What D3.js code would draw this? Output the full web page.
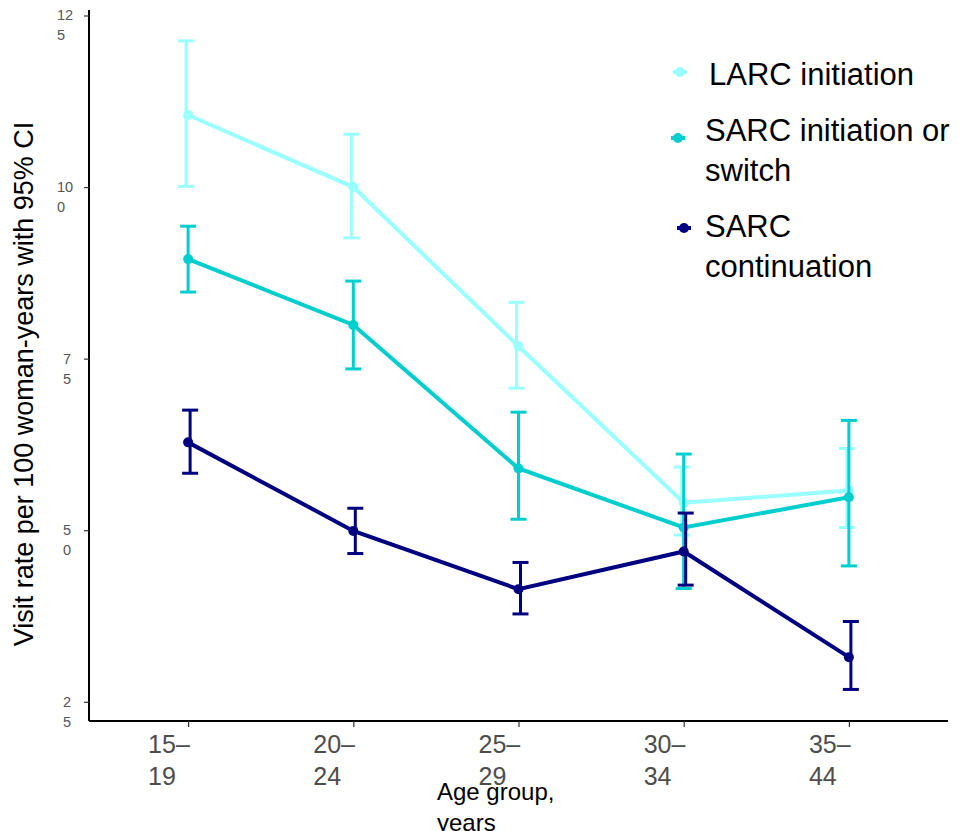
<!DOCTYPE html>
<html>
<head>
<meta charset="utf-8">
<script src="https://cdn.jsdelivr.net/npm/d3@7"></script>
<style>
  body { margin: 0; background: #fff; }
  svg { display: block; font-family: "Liberation Sans", Arial, sans-serif; }
</style>
</head>
<body>
<div id="chart"></div>
<script>
const WIDTH = 966;
const HEIGHT = 831;

// data
const ageGroups = ["15–19", "20–24", "25–29", "30–34", "35–44"];
const ageLines = [["15–", "19"], ["20–", "24"], ["25–", "29"], ["30–", "34"], ["35–", "44"]];
const yTicks = [25, 50, 75, 100, 125];

const larcRate = [110.5, 100.0, 76.8, 54.0, 55.8];
const larcLow  = [100.1, 92.6, 70.7, 49.3, 50.4];
const larcHigh = [121.3, 107.7, 83.2, 59.2, 61.9];

const sarcInitRate = [89.5, 79.9, 59.0, 50.4, 54.8];
const sarcInitLow  = [84.7, 73.5, 51.6, 41.5, 44.8];
const sarcInitHigh = [94.3, 86.3, 67.2, 61.1, 66.0];

const sarcContRate = [62.8, 49.9, 41.4, 46.9, 31.5];
const sarcContLow  = [58.3, 46.6, 37.8, 42.0, 26.8];
const sarcContHigh = [67.5, 53.2, 45.3, 52.5, 36.7];

const seriesNames = ["LARC initiation", "SARC initiation or switch", "SARC continuation"];
const seriesColors = ["#99FFFF", "#00CDCD", "#000080"];
const dodge = [-2, 0, 2];

const build = (rate, low, high) => ageGroups.map((g, i) => ({ g, v: rate[i], lo: low[i], hi: high[i] }));
const series = [
  build(larcRate, larcLow, larcHigh),
  build(sarcInitRate, sarcInitLow, sarcInitHigh),
  build(sarcContRate, sarcContLow, sarcContHigh),
];

const margin = { top: 10, right: 18, bottom: 110, left: 89 };

const svg = d3.select("#chart").append("svg")
  .attr("width", WIDTH)
  .attr("height", HEIGHT);

const x = d3.scalePoint()
  .domain(ageGroups)
  .range([margin.left, WIDTH - margin.right])
  .padding(0.6);

const y = d3.scaleLinear()
  .domain([22.2, 125.8])
  .range([HEIGHT - margin.bottom, margin.top]);

// axes
const xAxis = svg.append("g")
  .attr("transform", `translate(0,${HEIGHT - margin.bottom})`)
  .call(d3.axisBottom(x).tickSize(6).tickFormat(""));
xAxis.select(".domain").attr("stroke", "#000").attr("stroke-width", 2)
  .attr("d", `M${margin.left},0H${WIDTH - margin.right}`);
xAxis.selectAll(".tick line").attr("stroke", "#333").attr("stroke-width", 1.2);

const yAxis = svg.append("g")
  .attr("transform", `translate(${margin.left},0)`)
  .call(d3.axisLeft(y).tickValues(yTicks).tickSize(5).tickFormat(""));
yAxis.select(".domain").attr("stroke", "#000").attr("stroke-width", 2)
  .attr("d", `M0,${margin.top}V${HEIGHT - margin.bottom}`);
yAxis.selectAll(".tick line").attr("stroke", "#333").attr("stroke-width", 1.2);

// y tick labels, wrapped like the original
yTicks.forEach((t) => {
  const s = String(t);
  const parts = [s.slice(0, s.length - 1), s.slice(-1)];
  const lx = s.length > 2 ? 57 : 63;
  const txt = svg.append("text")
    .attr("y", y(t) + 5)
    .attr("font-size", 14.5)
    .attr("fill", "#555");
  parts.forEach((p, i) => {
    txt.append("tspan").attr("x", lx).attr("dy", i === 0 ? 0 : 20).text(p);
  });
});

// x tick labels, two lines, bottom line clipped
svg.append("clipPath").attr("id", "xclip")
  .append("rect").attr("x", 0).attr("y", HEIGHT - margin.bottom + 2).attr("width", WIDTH).attr("height", 64);

const xLabels = svg.append("g").attr("clip-path", "url(#xclip)");
ageGroups.forEach((g, i) => {
  const txt = xLabels.append("text")
    .attr("y", 753)
    .attr("font-size", 25)
    .attr("fill", "#4d4d4d");
  ageLines[i].forEach((p, j) => {
    txt.append("tspan").attr("x", x(g) - 40).attr("dy", j === 0 ? 0 : 32).text(p);
  });
});

// axis titles
const xTitle = svg.append("text")
  .attr("y", 800)
  .attr("font-size", 24)
  .attr("fill", "#000");
xTitle.append("tspan").attr("x", 437).text("Age group,");
xTitle.append("tspan").attr("x", 437).attr("dy", 31).text("years");

svg.append("text")
  .attr("transform", "translate(33,384) rotate(-90)")
  .attr("text-anchor", "middle")
  .attr("font-size", 27)
  .attr("fill", "#000")
  .text("Visit rate per 100 woman-years with 95% CI");

// series
const line = d3.line()
  .x((d) => x(d.g))
  .y((d) => y(d.v));

series.forEach((data, si) => {
  const color = seriesColors[si];
  const gSeries = svg.append("g");

  gSeries.append("path")
    .datum(data)
    .attr("fill", "none")
    .attr("stroke", color)
    .attr("stroke-width", 4)
    .attr("d", line);

  const bars = gSeries.selectAll("g.err")
    .data(data)
    .join("g")
    .attr("class", "err")
    .attr("stroke", color)
    .attr("stroke-width", 3);

  bars.append("line")
    .attr("x1", (d) => x(d.g) + dodge[si]).attr("x2", (d) => x(d.g) + dodge[si])
    .attr("y1", (d) => y(d.lo)).attr("y2", (d) => y(d.hi));
  bars.append("line")
    .attr("x1", (d) => x(d.g) + dodge[si] - 8).attr("x2", (d) => x(d.g) + dodge[si] + 8)
    .attr("y1", (d) => y(d.lo)).attr("y2", (d) => y(d.lo));
  bars.append("line")
    .attr("x1", (d) => x(d.g) + dodge[si] - 8).attr("x2", (d) => x(d.g) + dodge[si] + 8)
    .attr("y1", (d) => y(d.hi)).attr("y2", (d) => y(d.hi));

  gSeries.selectAll("circle")
    .data(data)
    .join("circle")
    .attr("cx", (d) => x(d.g))
    .attr("cy", (d) => y(d.v))
    .attr("r", 5)
    .attr("fill", color);
});

// legend
const legendItems = [
  { lines: ["LARC initiation"], mx: 680, my: 72, tx: 709, ty: 85 },
  { lines: ["SARC initiation or", "switch"], mx: 678, my: 138, tx: 705, ty: 141 },
  { lines: ["SARC", "continuation"], mx: 684, my: 228, tx: 705, ty: 237 },
];

legendItems.forEach((item, i) => {
  const lg = svg.append("g");
  lg.append("line")
    .attr("x1", item.mx - 7).attr("x2", item.mx + 7)
    .attr("y1", item.my).attr("y2", item.my)
    .attr("stroke", seriesColors[i]).attr("stroke-width", 4);
  lg.append("circle")
    .attr("cx", item.mx).attr("cy", item.my).attr("r", 5)
    .attr("fill", seriesColors[i]);
  const txt = lg.append("text")
    .attr("y", item.ty)
    .attr("font-size", 31)
    .attr("fill", "#000");
  item.lines.forEach((p, j) => {
    txt.append("tspan").attr("x", item.tx).attr("dy", j === 0 ? 0 : 40).text(p);
  });
});
</script>
</body>
</html>
